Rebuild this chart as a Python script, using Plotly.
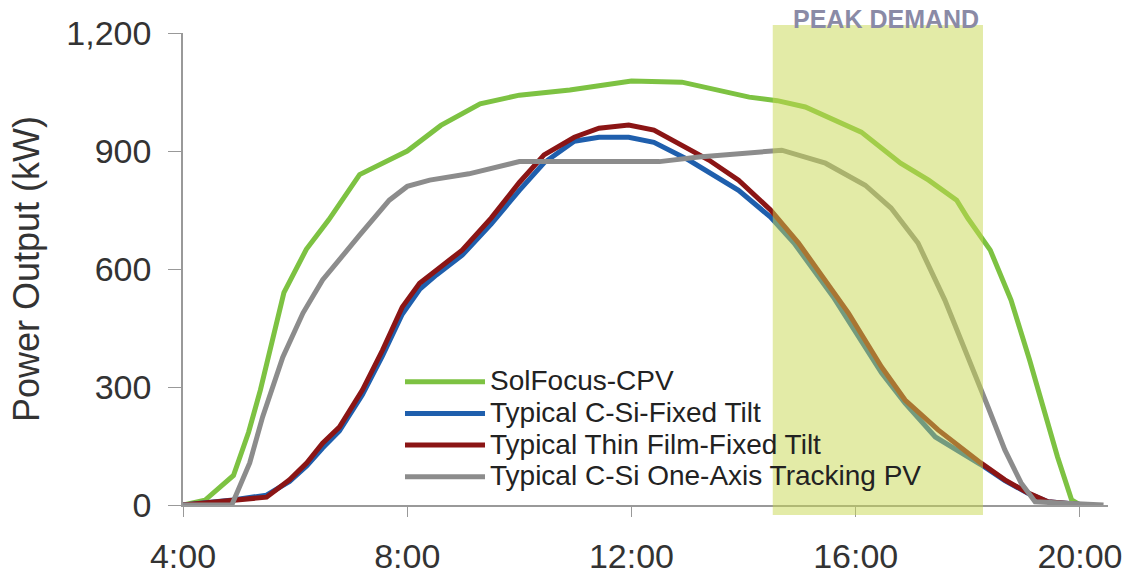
import plotly.graph_objects as go

# Hours of day (decimal) and power output (kW)
cpv_h = [4.0, 4.39, 4.9, 5.17, 5.38, 5.56, 5.8, 6.2, 6.6, 7.15, 8.0, 8.6, 9.3, 10.0, 10.9,
         12.0, 12.9, 14.1, 14.6, 15.1, 16.1, 16.8, 17.3, 17.8, 18.0, 18.4, 18.77, 19.1,
         19.4, 19.6, 19.85, 20.0]
cpv_kw = [0, 12, 75, 185, 292, 400, 540, 650, 725, 840, 900, 965, 1020, 1042, 1055,
          1078, 1075, 1037, 1028, 1012, 948, 869, 826, 775, 729, 648, 521, 369,
          224, 122, 13, 0]

csi_h = [4.0, 4.89, 5.49, 5.9, 6.21, 6.49, 6.79, 7.2, 7.56, 7.91, 8.22, 8.52, 8.98, 9.5,
         10.0, 10.44, 10.98, 11.42, 11.95, 12.4, 13.02, 13.38, 13.91, 14.48, 14.9, 15.6,
         15.87, 16.46, 16.88, 17.42, 18.23, 18.66, 19.07, 19.43, 19.96, 20.1]
csi_kw = [0, 13, 25, 60, 100, 145, 188, 280, 380, 485, 548, 585, 635, 715,
          800, 870, 925, 935, 935, 922, 877, 845, 800, 732, 666, 529,
          470, 336, 259, 173, 103, 62, 30, 8, 2, 0]

tf_h = [4.0, 4.89, 5.49, 5.9, 6.21, 6.49, 6.79, 7.2, 7.56, 7.91, 8.22, 8.52, 8.98, 9.5,
        10.0, 10.44, 10.98, 11.42, 11.95, 12.4, 13.02, 13.38, 13.91, 14.48, 14.98, 15.69,
        15.87, 16.46, 16.88, 17.47, 18.23, 18.66, 19.07, 19.43, 19.96, 20.1]
tf_kw = [0, 13, 20, 64, 107, 157, 198, 292, 394, 503, 564, 597, 648, 730,
         820, 890, 935, 958, 966, 953, 907, 877, 826, 750, 666, 521,
         488, 351, 267, 191, 107, 64, 31, 8, 3, 0]

trk_h = [4.0, 4.87, 5.19, 5.42, 5.78, 6.14, 6.49, 6.92, 7.15, 7.68, 8.0, 8.4, 9.1, 10.0,
         12.0, 12.5, 13.2, 14.45, 14.68, 15.46, 16.17, 16.63, 17.11, 17.59, 18.13, 18.36,
         18.66, 18.95, 19.2, 20.42]
trk_kw = [0, 0, 107, 224, 376, 488, 572, 648, 686, 775, 810, 826, 842, 873,
          873, 873, 885, 897, 902, 869, 813, 755, 666, 521, 336, 249,
          140, 56, 8, 0]

x_ticks = [4, 8, 12, 16, 20]
x_labels = ["4:00", "8:00", "12:00", "16:00", "20:00"]
y_ticks = [0, 300, 600, 900, 1200]

peak_start, peak_end = 14.52, 18.27

series = [
    ("SolFocus-CPV", cpv_h, cpv_kw, "#7dc242"),
    ("Typical C-Si-Fixed Tilt", csi_h, csi_kw, "#1f5fad"),
    ("Typical Thin Film-Fixed Tilt", tf_h, tf_kw, "#8b1515"),
    ("Typical C-Si One-Axis Tracking PV", trk_h, trk_kw, "#8c8c8c"),
]

fig = go.Figure()
for name, xs, ys, col in series:
    fig.add_trace(go.Scatter(x=xs, y=ys, name='<span style="font-size:28px">' + name + '</span>',
                             mode="lines", line=dict(color=col, width=5)))

fig.add_shape(type="rect", xref="x", yref="paper", x0=peak_start, x1=peak_end,
              y0=-0.021, y1=1.017, fillcolor="rgba(200,215,80,0.5)",
              line=dict(width=0), layer="above")
fig.add_annotation(x=(peak_start + peak_end) / 2, xref="x", y=1.03, yref="paper",
                   yanchor="middle", xshift=8, text="<b>PEAK DEMAND</b>", showarrow=False,
                   font=dict(family="Liberation Sans", size=25, color="#8a8aa6"))

fig.update_layout(
    width=1131, height=578,
    margin=dict(l=183, r=23, t=33, b=73),
    paper_bgcolor="white", plot_bgcolor="white",
    font=dict(family="Liberation Sans", color="#333333"),
    showlegend=True,
    legend=dict(x=0.2346, y=0.305, xanchor="left", yanchor="top",
                font=dict(size=22, color="#222222"), bgcolor="rgba(0,0,0,0)",
                tracegroupgap=0, itemwidth=80),
)
fig.update_xaxes(range=[4, 20.5], tickvals=x_ticks, ticktext=x_labels, automargin=False,
                 showgrid=False, zeroline=False, showline=True, linecolor="#999999",
                 linewidth=1.5, ticks="outside", ticklen=10, tickcolor="#999999",
                 tickfont=dict(size=34, color="#333333"), ticklabelstandoff=10)
fig.update_yaxes(range=[0, 1200], tickvals=y_ticks, tickformat=",d", automargin=False,
                 showgrid=False, zeroline=False, showline=True, linecolor="#999999",
                 linewidth=1.5, ticks="outside", ticklen=13, tickcolor="#999999",
                 tickfont=dict(size=34, color="#333333"), ticklabelstandoff=10,
                 title=dict(text="Power Output (kW)", font=dict(size=36, color="#333333"),
                            standoff=16))

fig.write_html("out.html")
